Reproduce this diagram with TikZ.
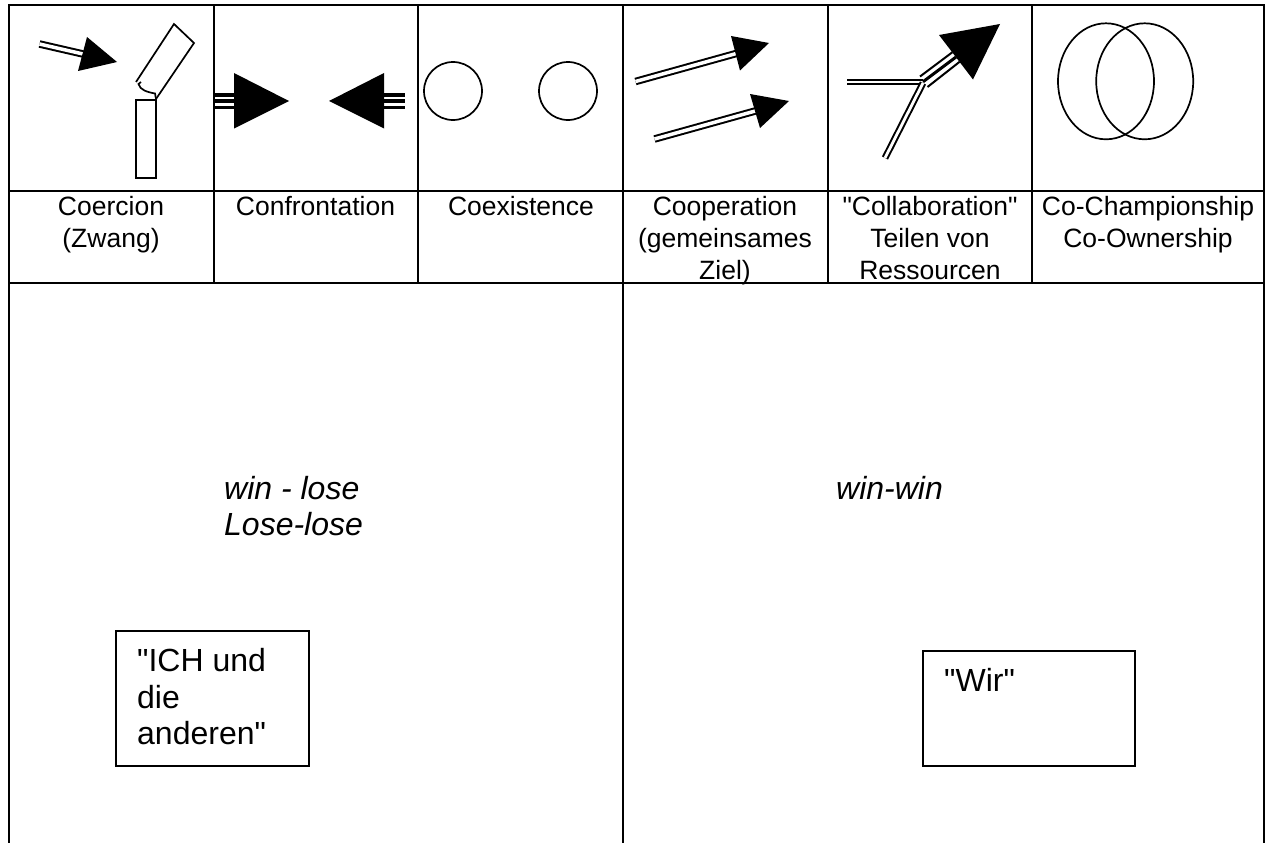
\documentclass[tikz,border=0pt]{standalone}
\usepackage{fontspec}
\newfontfamily\plainsans{Liberation Sans}

\tikzset{
	gridline/.style={black, line width=2pt},
	outline/.style={black, line width=1.7pt},
	shaft/.style={black, double, line width=2pt, double distance=3.5pt},
	head/.style={fill=black, draw=none},
	captiontext/.style={inner sep=0pt, align=center, anchor=base, font=\plainsans\fontsize{26.5}{32}\selectfont},
	bigtext/.style={inner sep=0pt, align=left, anchor=base west, font=\plainsans\fontsize{32}{36.5}\selectfont},
	slanttext/.style={bigtext, font=\plainsans\fontsize{32}{36}\selectfont\itshape},
}

\begin{document}
\begin{tikzpicture}[x=1pt, y=-1pt]
	\useasboundingbox (0, 0) rectangle (1266, 843);

	% grid
	\def\rowa{5}
	\def\rowb{191}
	\def\rowc{283}
	\draw[gridline, line cap=rect] (8.5, \rowa) -- (1264, \rowa);
	\draw[gridline] (8.5, \rowb) -- (1264, \rowb);
	\draw[gridline] (8.5, \rowc) -- (1264, \rowc);
	\foreach \x in {213.5, 418, 828, 1032} {
		\draw[gridline] (\x, \rowa) -- (\x, \rowc);
	}
	\foreach \x in {8.5, 623, 1264} {
		\draw[gridline] (\x, \rowa) -- (\x, 843);
	}

	% coercion
	\draw[shaft] (39.5, 44) -- (83, 54);
	\fill[head] (87, 37) -- (117, 62) -- (78, 71) -- cycle;
	\draw[outline, line join=miter] (136, 82) -- (174, 24) -- (194, 43) -- (156, 99);
	\draw[outline] (141, 82) -- (138.5, 84)
		.. controls (140, 90) and (147, 92) .. (155, 93.5) -- (156, 99);
	\draw[outline] (136, 100) rectangle (156, 178);

	% confrontation
	\foreach \y/\w in {95/3.2, 101/4.6, 107.3/3.2} {
		\draw[line width=\w pt] (214, \y) -- (236, \y);
		\draw[line width=\w pt] (382, \y) -- (405, \y);
	}
	\fill[head] (234, 73) -- (289, 101) -- (234, 128.5) -- cycle;
	\fill[head] (384, 73) -- (329, 101) -- (384, 128.5) -- cycle;

	% coexistence
	\draw[outline] (453, 91) circle [radius=29];
	\draw[outline] (568, 91) circle [radius=29];

	% cooperation
	\draw[shaft] (635.5, 81.5) -- (738, 53);
	\fill[head] (731, 36) -- (769, 43) -- (740, 70.5) -- cycle;
	\draw[shaft] (654.5, 139) -- (757, 110.5);
	\fill[head] (750, 94) -- (789, 101) -- (760, 128) -- cycle;

	% collaboration
	\draw[shaft, double distance=2.8pt] (847, 82) -- (923, 82);
	\draw[shaft, double distance=2.8pt] (885, 158) -- (923, 83);
	\draw[line width=2pt] (920, 76.5) -- (952.4, 52.2);
	\draw[line width=3pt] (923, 81.8) -- (956, 57);
	\draw[line width=2pt] (927.5, 87) -- (959.6, 61.8);
	\fill[head] (939, 35) -- (1000, 24) -- (973, 79.5) -- cycle;

	% co-championship
	\draw[outline] (1106, 81.3) ellipse [x radius=48, y radius=58];
	\draw[outline] (1144.7, 81.3) ellipse [x radius=48.5, y radius=58];

	% labels under the pictures, placed by their last line
	\node[captiontext] (coercion) at (111, 247) {Coercion\\(Zwang)};
	\node[captiontext] (confrontation) at (315.5, 215) {Confrontation};
	\node[captiontext] (coexistence) at (521, 215) {Coexistence};
	\node[captiontext] (cooperation) at (725, 279) {Cooperation\\(gemeinsames\\Ziel)};
	\node[captiontext] (collaboration) at (930, 279) {"Collaboration"\\Teilen von\\Ressourcen};
	\node[captiontext] (champion) at (1148, 247) {Co-Championship\\Co-Ownership};

	% lower half
	\node[slanttext] (lose) at (224, 535) {win - lose\\Lose-lose};
	\node[slanttext] (win) at (836, 499) {win-win};

	\draw[outline] (116, 631) rectangle (309, 766);
	\node[bigtext] (ich) at (137, 744.5) {"ICH und\\die\\anderen"};

	\draw[outline] (923, 651) rectangle (1135, 766);
	\node[bigtext] (wir) at (944, 691) {"Wir"};
\end{tikzpicture}
\end{document}
